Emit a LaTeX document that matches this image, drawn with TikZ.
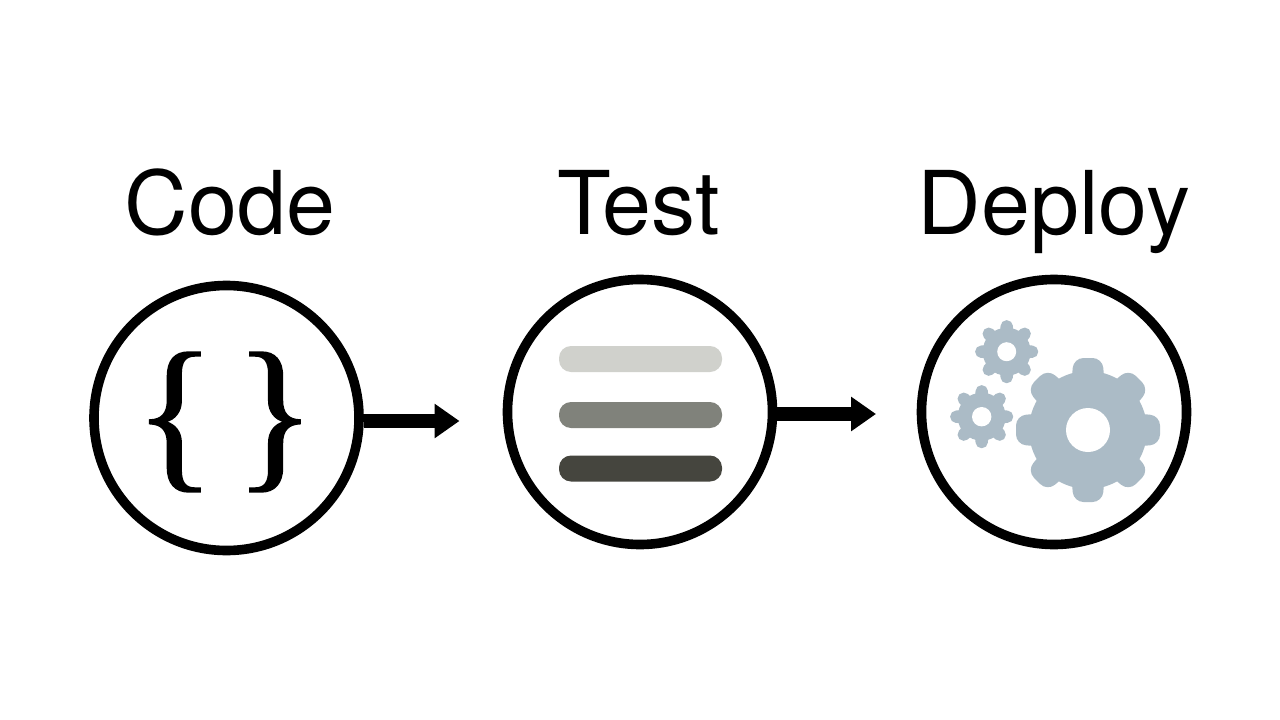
\documentclass[tikz,border=0pt]{standalone}
\usepackage{fontspec}
\setmainfont{TeX Gyre Heros}
\newfontfamily\braceFont[FakeBold=0.9]{Liberation Serif}
\usetikzlibrary{arrows.meta, positioning}
\definecolor{gearBlue}{HTML}{ABBBC6}
\definecolor{barLight}{HTML}{D0D1CC}
\definecolor{barMid}{HTML}{80827B}
\definecolor{barDark}{HTML}{45453E}
\tikzset{
  arrowK/.style={-{Triangle[length=25pt, width=33pt]}, black, line width=14pt},
  ringA/.style={circle, draw=black, fill=white, line width=9.6pt, minimum size=265pt, inner sep=0pt},
  titleA/.style={anchor=base, font=\fontsize{88}{92}\selectfont},
  barA/.style={rectangle, rounded corners=12pt, minimum width=163pt, minimum height=26pt, inner sep=0pt},
}
% center x, center y, body radius, outer radius, tooth width, corner radius, hole radius
\newcommand{\gearIcon}[7]{
  \begin{scope}[shift={(#1,#2)}]
    \foreach \a in {0,45,...,315}
      \fill[gearBlue, rotate=\a, rounded corners=#6pt] (-#5pt*0.7,0pt) -- (-#5pt/2,#4pt) -- (#5pt/2,#4pt) -- (#5pt*0.7,0pt) -- cycle;
    \fill[gearBlue] (0,0) circle (#3pt);
    \fill[white] (0,0) circle (#7pt);
  \end{scope}
}
\begin{document}
\begin{tikzpicture}[x=1pt, y=-1pt]
    \useasboundingbox (0,0) rectangle (1280,720);
    % labels
    \node[titleA] (codeT) at (230,234.5) {Code};
    \node[titleA] (testT) at (638.5,234.5) {Test};
    \node[titleA] (deployT) at (1054,234.5) {Deploy};
    % rings
    \node[ringA] (code) at (226.5,418) {};
    \node[ringA] (test) at (640,412) {};
    \node[ringA] (deploy) at (1054,412) {};
    % arrows
    \coordinate (codeTip) at (459.5,421);
    \coordinate (testTip) at (876,414);
    \draw[arrowK] (code.east |- codeTip) -- (codeTip);
    \draw[arrowK] (test.east |- testTip) -- (testTip);
    % braces
    \node[font=\braceFont\fontsize{169}{169}\selectfont, inner sep=0pt] (braces) at (225,422) {\{\hspace{19pt}\}};
    % bars
    \node[barA, fill=barLight] (barOne) at (640.5,359) {};
    \node[barA, fill=barMid] (barTwo) at (640.5,415) {};
    \node[barA, fill=barDark] (barThree) at (640.5,468.5) {};
    % gears
    \gearIcon{1088}{430}{59}{72}{29}{10}{22}
    \gearIcon{1006.7}{351.7}{24}{31.5}{11.5}{5.5}{9.5}
    \gearIcon{981.7}{416.7}{24}{31.5}{11.5}{5.5}{9.7}
  \end{tikzpicture}
\end{document}
